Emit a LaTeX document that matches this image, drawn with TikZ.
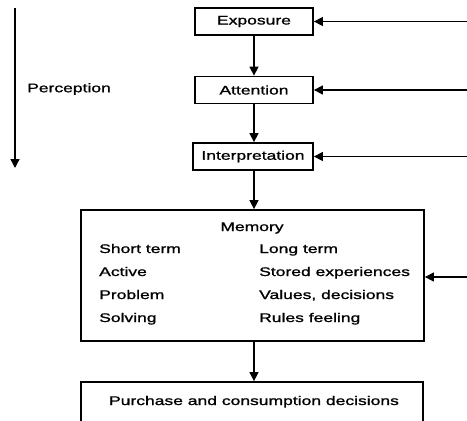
\documentclass[tikz,border=0pt]{standalone}
\usepackage{fontspec}
\setmainfont{Liberation Sans}[FakeStretch=1.4,FakeBold=1.2]
\usetikzlibrary{arrows.meta}
\begin{document}
\begin{tikzpicture}[x=1pt,y=-1pt,
  every node/.style={font=\fontsize{12.5}{15}\selectfont, inner sep=0pt},
  stagebox/.style={draw, line width=1.8pt, minimum height=27pt, align=center},
  bigbox/.style={draw, line width=1.8pt},
  flow/.style={line width=1.4pt, -{Triangle[length=9pt,width=9pt]}},
  item/.style={anchor=base west}]
\useasboundingbox (0,0) rectangle (467,421);
\clip (0,0) rectangle (467,421);

% process stages
\node[stagebox, minimum width=118pt] (exp) at (254,21.5) {Exposure};
\node[stagebox, minimum width=118pt] (att) at (254,90) {Attention};
\node[stagebox, minimum width=120pt] (int) at (253,156.5) {Interpretation};

% memory frame and its contents
\node[bigbox, minimum width=343pt, minimum height=131pt] (mem) at (252.5,275.5) {};
\node[anchor=base] (memt) at (252,231) {Memory};
\node[item] (st)  at (99,253) {Short term};
\node[item] (act) at (99,276) {Active};
\node[item] (pro) at (99,299) {Problem};
\node[item] (sol) at (99,322) {Solving};
\node[item] (lt)  at (259,253) {Long term};
\node[item] (se)  at (259,276) {Stored experiences};
\node[item] (vd)  at (259,299) {Values, decisions};
\node[item] (rf)  at (259,322) {Rules feeling};

% decisions box (runs past the lower edge)
\node[bigbox, minimum width=342pt, minimum height=60pt] (pur) at (252,412) {};
\node[anchor=base] (purt) at (254,405) {Purchase and consumption decisions};

% perception span
\coordinate (ptop) at (15,8);
\coordinate (pbot) at (15,168);
\draw[flow, line width=1.3pt] (ptop) -- (pbot);
\node (perc) at (69,89) {Perception};

% downward flow
\draw[flow] (exp.south) -- (att.north);
\draw[flow] (att.south -| exp.south) -- (int.north -| exp.south);
\draw[flow] (int.south -| exp.south) -- (mem.north -| exp.south);
\draw[flow] (mem.south -| exp.south) -- (pur.north -| exp.south);

% inputs from the right
\coordinate (r1) at (467,21.5);
\coordinate (r2) at (467,90);
\coordinate (r3) at (467,156.5);
\coordinate (r4) at (467,277);
\draw[flow] (r1) -- (exp.east);
\draw[flow] (r2) -- (att.east);
\draw[flow] (r3) -- (int.east);
\draw[flow] (r4) -- (r4 -| mem.east);
\end{tikzpicture}
\end{document}
